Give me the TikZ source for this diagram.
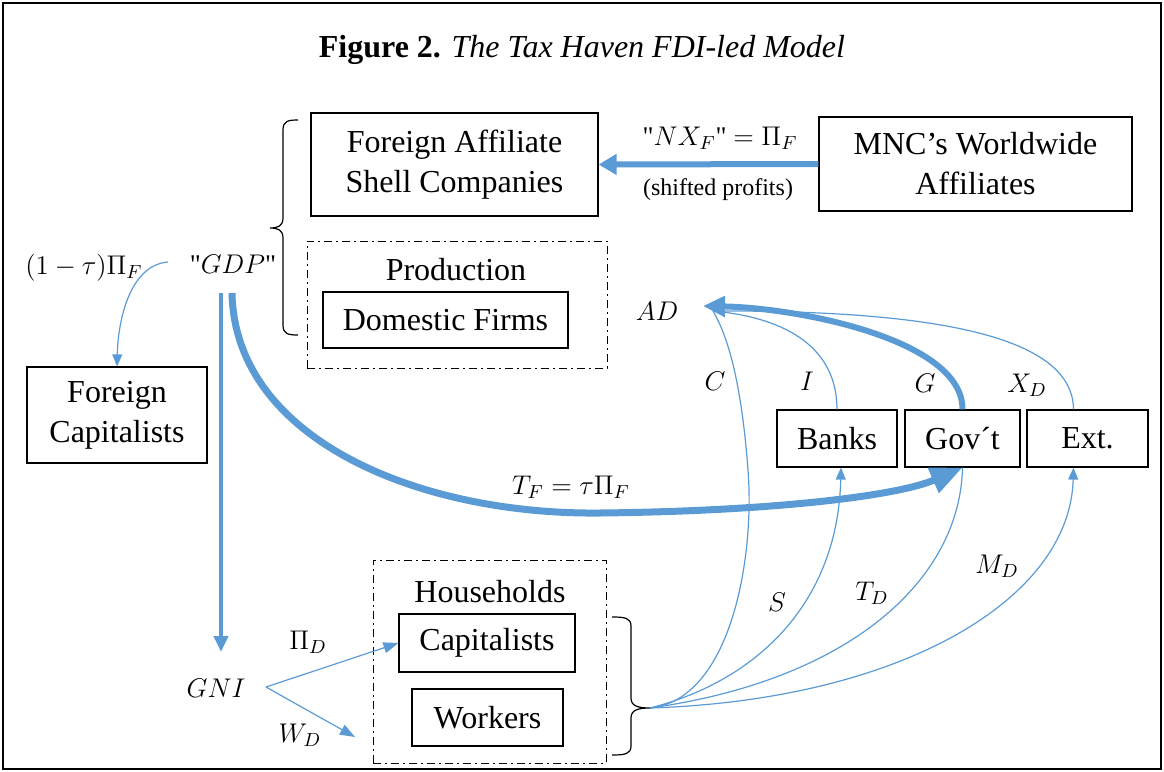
\documentclass[tikz,border=0pt]{standalone}
\usepackage{fix-cm}
\usepackage{fontspec}
\setmainfont{Liberation Serif}
\newfontfamily\qfont{Liberation Serif}[Ligatures=TeXOff]
\usetikzlibrary{arrows.meta}
\definecolor{ob}{RGB}{91,155,213}
\newcommand{\sq}{{\qfont\char34}}
\tikzset{
  every node/.style={font=\fontsize{16}{20}\selectfont},
  bx/.style={draw=black, line width=0.6pt, inner sep=0pt, align=center},
  dd/.style={draw=black, line width=0.5pt, dash pattern=on 4pt off 2pt on 1pt off 2pt, inner sep=0pt},
  bl/.style={draw=ob, line width=0.6pt},
  blhead/.style={-{Triangle[length=6pt,width=5pt]}},
  blhead2/.style={-{Triangle[length=7.5pt,width=5.5pt]}},
  lbl/.style={inner sep=0pt},
  mlbl/.style={inner sep=0pt, font=\fontsize{13.5}{16}\selectfont},
  brc/.style={draw=black, line width=0.6pt},
}
\begin{document}
\begin{tikzpicture}[x=0.5pt,y=-0.5pt]
\useasboundingbox (0,0) rectangle (1164,772);
\draw[line width=1pt] (3,3) rectangle (1161,769);

% title
\node (title) at (582,50) {\textbf{Figure 2.} \textit{The Tax Haven FDI-led Model}};

% boxes
\node[bx, minimum width=143.5pt, minimum height=51.5pt] (fasc) at (454.5,164.5) {Foreign Affiliate\\Shell Companies};
\node[bx, minimum width=156.5pt, minimum height=47pt] (mnc) at (975.5,164) {MNC’s Worldwide\\Affiliates};
\node[dd, minimum width=150pt, minimum height=63.5pt] (prod) at (457,304.5) {};
\node[lbl] (prodlbl) at (456,270) {Production};
\node[bx, minimum width=122.5pt, minimum height=28pt] (dom) at (445.5,320) {Domestic Firms};
\node[bx, minimum width=90pt, minimum height=48pt] (fcap) at (117,415) {Foreign\\Capitalists};
\node[bx, minimum width=60pt, minimum height=28.5pt] (banks) at (837,438.5) {Banks};
\node[bx, minimum width=57.5pt, minimum height=28.5pt] (govt) at (962.5,438.5) {Gov´t};
\node[bx, minimum width=60.5pt, minimum height=28.5pt] (ext) at (1087.5,438.5) {Ext.};
\node[dd, minimum width=116.5pt, minimum height=101.5pt] (hous) at (489.5,661.5) {};
\node[lbl] (houslbl) at (490,592) {Households};
\node[bx, minimum width=88pt, minimum height=29pt] (caps) at (487,643) {Capitalists};
\node[bx, minimum width=75.5pt, minimum height=28.5pt] (work) at (487.5,717.5) {Workers};

% labels
\node[mlbl] (nxf) at (720,138) {\sq$NX_F$\sq{} $=\Pi_F$};
\node[lbl, font=\fontsize{12}{14}\selectfont] (shift) at (718,190) {(shifted profits)};
\node[mlbl] (gdp) at (233,264) {\sq$GDP$\sq};
\node[mlbl] (otp) at (84,268) {$(1-\tau)\Pi_F$};
\node[mlbl] (ad) at (657,311) {$AD$};
\node[mlbl] (lc) at (715,381) {$C$};
\node[mlbl] (li) at (807,381) {$I$};
\node[mlbl] (lg) at (925,383) {$G$};
\node[mlbl] (lx) at (1027,385) {$X_D$};
\node[mlbl] (ltf) at (571,487) {$T_F=\tau\Pi_F$};
\node[mlbl] (ls) at (777,602) {$S$};
\node[mlbl] (ltd) at (872,593) {$T_D$};
\node[mlbl] (lmd) at (997,566) {$M_D$};
\node[mlbl] (gni) at (216,688) {$GNI$};
\node[mlbl] (lpd) at (308,642) {$\Pi_D$};
\node[mlbl] (lwd) at (300,735) {$W_D$};

% coordinates
\coordinate (adtip) at (703,306);
\coordinate (adin) at (713,311);
\coordinate (hh) at (650,708);
\coordinate (gdps1) at (221,293);
\coordinate (gdps2) at (232,293);
\coordinate (gniin) at (221,652);
\coordinate (gnis) at (266,687);
\coordinate (wdend) at (355,737);
\coordinate (fcs) at (168,262);

% braces
\draw[brc] (298,120) .. controls (288,120) and (283,121) .. (283,130) -- (283,218)
  .. controls (283,226) and (278,228) .. (270,228)
  .. controls (278,228) and (283,230) .. (283,238) -- (283,325)
  .. controls (283,334) and (288,335) .. (298,335);
\draw[brc] (612,617) .. controls (625,617) and (631,618) .. (631,626) -- (631,698)
  .. controls (631,706) and (638,708) .. (hh)
  .. controls (638,708) and (631,710) .. (631,718) -- (631,746)
  .. controls (631,754) and (625,755) .. (612,755);

% thick arrows
\draw[ob, line width=3pt, -{Triangle[length=9pt,width=10pt]}] (mnc.west) -- (fasc.east);
\draw[ob, line width=2pt, -{Triangle[length=8pt,width=7pt]}] (gdps1) -- (gniin);
\draw[ob, line width=3.5pt, -{Triangle[length=16pt,width=13pt]}] (gdps2) .. controls (235,440) and (420,515) .. (600,513) .. controls (780,511) and (900,495) .. (govt.south);
\draw[ob, line width=3pt, -{Triangle[length=11pt,width=10pt]}] (govt.north) .. controls (963,340) and (800,308) .. (adtip);

% thin curves to AD
\draw[bl] (hh) .. controls (730,700) and (755,560) .. (748,470) .. controls (742,390) and (730,340) .. (adin);
\draw[bl] (banks.north) .. controls (837,350) and (790,318) .. (adin);
\draw[bl] ([xshift=-7pt]ext.north) .. controls (1073,340) and (950,310) .. (adin);

% from households
\draw[bl, blhead] (hh) .. controls (760,680) and (838,600) .. ([xshift=2pt]banks.south);
\draw[bl] (hh) .. controls (850,680) and (960,580) .. (govt.south);
\draw[bl, blhead] (hh) .. controls (900,700) and (1070,600) .. ([xshift=-7pt]ext.south);

% others
\draw[bl, blhead] (fcs) .. controls (130,265) and (118,320) .. (fcap.north);
\draw[bl, blhead2] (gnis) -- (caps.west);
\draw[bl, blhead2] (gnis) -- (wdend);
\end{tikzpicture}
\end{document}
